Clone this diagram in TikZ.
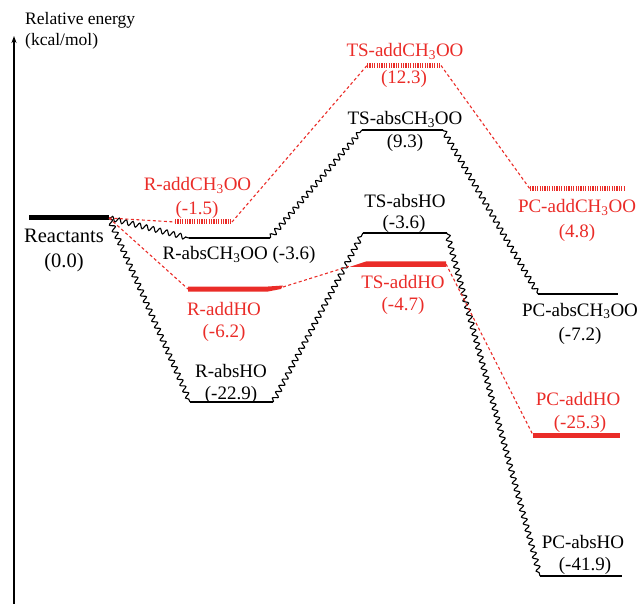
\documentclass[tikz,border=0pt]{standalone}
\usepackage{fontspec}
\setmainfont{Liberation Serif}
\usetikzlibrary{arrows.meta,decorations.pathmorphing}
\definecolor{ered}{RGB}{234,44,40}
\tikzset{
  lbl/.style={inner sep=0pt, anchor=base, font=\fontsize{19}{22}\selectfont},
  rlbl/.style={lbl, text=ered},
  wavy/.style={line width=1.1pt, decorate, decoration={snake, amplitude=2.5pt, segment length=7pt, pre length=1pt, post length=1pt}},
  rdash/.style={ered, line width=1.1pt, dash pattern=on 3pt off 2.5pt},
  thinbar/.style={line width=1.5pt},
  hashbar/.style={ered, line width=5pt, dash pattern=on 1.1pt off 1.3pt},
}
\begin{document}
\begin{tikzpicture}[x=1pt,y=-1pt]
\useasboundingbox (0,0) rectangle (640,604);
% axis
\coordinate (ax0) at (14,604);
\coordinate (ax1) at (14,36);
\draw[line width=1.2pt, -{Stealth[length=7pt,width=5pt]}] (ax0) -- (ax1);
\node[inner sep=0pt, anchor=base west, font=\fontsize{17.5}{20}\selectfont] (t1) at (25,25) {Relative energy};
\node[inner sep=0pt, anchor=base west, font=\fontsize{17.5}{20}\selectfont] (t2) at (25,46) {(kcal/mol)};

% ---- bar end coordinates
\coordinate (reL) at (29,218);   \coordinate (reR) at (109,218);
\coordinate (raL) at (175,222);  \coordinate (raR) at (232,222);
\coordinate (rbL) at (189,238);  \coordinate (rbR) at (270,238);
\coordinate (rhL) at (188,289);  \coordinate (rhR) at (283,287);
\coordinate (rsL) at (190,402);  \coordinate (rsR) at (273,402);
\coordinate (taL) at (367,65.5); \coordinate (taR) at (441,65.5);
\coordinate (tbL) at (362,130);  \coordinate (tbR) at (443,130);
\coordinate (tsL) at (363,233);  \coordinate (tsR) at (447,233);
\coordinate (thL) at (350,266);  \coordinate (thR) at (446,264);
\coordinate (paL) at (530,189);  \coordinate (paR) at (625,189);
\coordinate (pbL) at (538,294);  \coordinate (pbR) at (618,294);
\coordinate (phL) at (533,435);  \coordinate (phR) at (620,435);
\coordinate (psL) at (540,576);  \coordinate (psR) at (622,576);

% ---- bars
\draw[line width=5pt] (reL) -- (reR);
\draw[hashbar] (raL) -- (raR);
\draw[thinbar] (rbL) -- (rbR);
\fill[ered] (188,286.5) -- (268,286.5) -- (283,285.5) -- (281,289) -- (268,291.5) -- (188,291.5) -- cycle;
\draw[thinbar] (rsL) -- (rsR);
\draw[hashbar] (taL) -- (taR);
\draw[thinbar] (tbL) -- (tbR);
\draw[thinbar] (tsL) -- (tsR);
\fill[ered] (350,266.8) -- (366,261.5) -- (446,261.5) -- (446,267) -- cycle;
\draw[hashbar] (paL) -- (paR);
\draw[thinbar] (pbL) -- (pbR);
\draw[line width=5pt, ered] (phL) -- (phR);
\draw[thinbar] (psL) -- (psR);

% ---- wavy (black) connectors
\draw[wavy] (reR) -- (rbL);
\draw[wavy] (reR) -- (rsL);
\draw[wavy] (rbR) -- (tbL);
\draw[wavy] (rsR) -- (tsL);
\draw[wavy] (tbR) -- (pbL);
\draw[wavy] (tsR) -- (psL);

% ---- red dashed connectors
\draw[rdash] (reR) -- (raL);
\draw[rdash] (reR) -- (rhL);
\draw[rdash] (raR) -- (taL);
\draw[rdash] (rhR) -- (thL);
\draw[rdash] (taR) -- (paL);
\draw[rdash] (thR) -- (phL);

% ---- labels
\node[lbl, font=\fontsize{20.5}{24}\selectfont] (l1) at (64,243) {Reactants};
\node[lbl, font=\fontsize{20.5}{24}\selectfont] (l2) at (64,268) {(0.0)};
\node[rlbl] (l3) at (197.5,191) {R-addCH\textsubscript{3}OO};
\node[rlbl] (l4) at (197,215) {(-1.5)};
\node[lbl] (l5) at (239,260) {R-absCH\textsubscript{3}OO (-3.6)};
\node[rlbl] (l6) at (224,315) {R-addHO};
\node[rlbl] (l7) at (224,337) {(-6.2)};
\node[lbl] (l8) at (231,377) {R-absHO};
\node[lbl] (l9) at (231,399) {(-22.9)};
\node[rlbl] (l10) at (405,57) {TS-addCH\textsubscript{3}OO};
\node[rlbl] (l11) at (404,84) {(12.3)};
\node[lbl] (l12) at (405,125) {TS-absCH\textsubscript{3}OO};
\node[lbl] (l13) at (405,148) {(9.3)};
\node[lbl] (l14) at (405,208) {TS-absHO};
\node[lbl] (l15) at (404,229) {(-3.6)};
\node[rlbl] (l16) at (403,288) {TS-addHO};
\node[rlbl] (l17) at (403,310) {(-4.7)};
\node[rlbl] (l18) at (577,213) {PC-addCH\textsubscript{3}OO};
\node[rlbl] (l19) at (577,237) {(4.8)};
\node[lbl] (l20) at (580,316) {PC-absCH\textsubscript{3}OO};
\node[lbl] (l21) at (580,340) {(-7.2)};
\node[rlbl] (l22) at (578,405) {PC-addHO};
\node[rlbl] (l23) at (580,428) {(-25.3)};
\node[lbl] (l24) at (583,548) {PC-absHO};
\node[lbl] (l25) at (585,570) {(-41.9)};
\end{tikzpicture}
\end{document}
